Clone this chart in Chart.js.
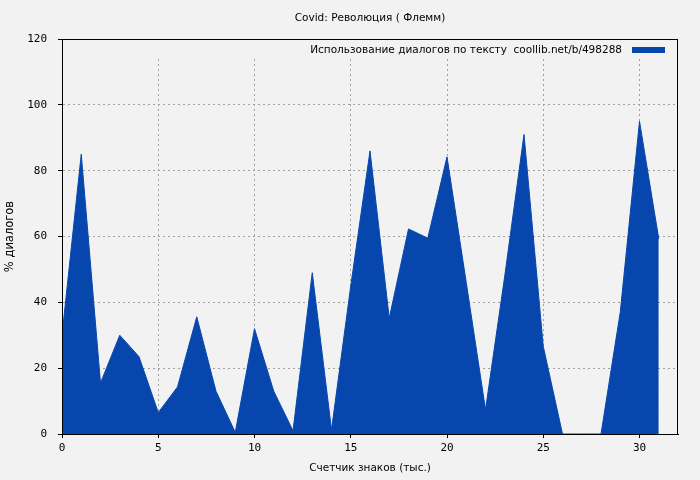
<!DOCTYPE html>
<html>
<head>
<meta charset="utf-8">
<script src="https://cdn.jsdelivr.net/npm/chart.js@4"></script>
<style>
  body { margin: 0; background: #f2f2f2; }
  canvas { display: block; }
</style>
</head>
<body>
<canvas id="chart" width="700" height="480"></canvas>
<script>
// values
const chartTitle = 'Covid: Революция ( Флемм)'
const seriesLabel = 'Использование диалогов по тексту  coollib.net/b/498288'
const xTitle = 'Счетчик знаков (тыс.)'
const yTitle = '% диалогов'

const charCount = [0, 1, 2, 3, 4, 5, 6, 7, 8, 9, 10, 11, 12, 13, 14, 15,
    16, 17, 18, 19, 20, 21, 22, 23, 24, 25, 26, 27, 28, 29, 30, 31]
const dialogShare = [30, 85, 15.5, 30, 23.5, 6.5, 14.3, 35.6, 13, 0.5, 32, 13, 1, 49, 1.3, 45,
    86, 35.2, 62.3, 59.5, 84.2, 46, 7.4, 48, 91, 26.6, 0, 0, 0, 37, 95, 59.3]

const xTicks = [0, 5, 10, 15, 20, 25, 30]
const yTicks = [0, 20, 40, 60, 80, 100, 120]

const blue = '#0646ad'
const gridColor = '#a0a0a0'
const textFont = {family: 'DejaVu Sans', size: 10.5}
const tickFont = {family: 'DejaVu Sans Mono', size: 11}

// gnuplot style frame, title + key drawn by hand
const framePlugin = {
    id: 'frame',
    beforeDatasetsDraw(chart) {
        const {ctx, chartArea: a} = chart
        // key area hides the top part of the grid
        ctx.save()
        ctx.fillStyle = '#f2f2f2'
        ctx.fillRect(a.left + 1, a.top + 1, a.right - a.left - 2, 17)
        ctx.restore()
    },
    afterDraw(chart) {
        const {ctx, chartArea: a} = chart
        ctx.save()
        ctx.strokeStyle = '#000'
        ctx.lineWidth = 1
        ctx.strokeRect(Math.round(a.left) + 0.5, Math.round(a.top) + 0.5,
            Math.round(a.right - a.left) - 1, Math.round(a.bottom - a.top))

        ctx.font = textFont.size + 'px "' + textFont.family + '"'
        ctx.fillStyle = '#000'
        ctx.textBaseline = 'middle'

        // title centred over the plot
        ctx.textAlign = 'center'
        ctx.fillText(chartTitle, (a.left + a.right) / 2, 18.5)

        // key: text then swatch on the right
        const label = chart.data.datasets[0].label
        ctx.textAlign = 'right'
        ctx.fillText(label, a.right - 56, a.top + 11)
        ctx.fillStyle = chart.data.datasets[0].backgroundColor
        ctx.fillRect(a.right - 46, a.top + 8, 33, 6)
        ctx.restore()
    }
}

const data = {
    datasets: [{
        label: seriesLabel,
        data: charCount.map((x, i) => ({x: x, y: dialogShare[i]})),
        backgroundColor: blue,
        borderColor: blue,
        borderWidth: 1,
        fill: 'origin',
        pointRadius: 0,
        tension: 0
    }]
}

const config = {
    type: 'line',
    data,
    plugins: [framePlugin],
    options: {
        responsive: false,
        animation: false,
        devicePixelRatio: 1,
        layout: {padding: {left: 0, right: 22, top: 39, bottom: 0}},
        plugins: {
            legend: {display: false},
            tooltip: {enabled: false},
            title: {display: false}
        },
        scales: {
            x: {
                type: 'linear',
                min: 0,
                max: 32,
                afterBuildTicks: scale => { scale.ticks = xTicks.map(v => ({value: v})) },
                afterFit: scale => { scale.height = 46 },
                ticks: {color: '#000', font: tickFont, padding: 4, maxRotation: 0},
                grid: {color: gridColor, tickColor: '#000', tickLength: 4},
                border: {display: true, color: '#000', dash: [2, 3]},
                title: {display: true, text: xTitle, color: '#000', font: textFont, padding: {top: 0, bottom: 5}}
            },
            y: {
                min: 0,
                max: 120,
                afterBuildTicks: scale => { scale.ticks = yTicks.map(v => ({value: v})) },
                afterFit: scale => { scale.width = 62 },
                ticks: {color: '#000', font: tickFont, padding: 11},
                grid: {color: gridColor, tickColor: '#000', tickLength: 4},
                border: {display: true, color: '#000', dash: [2, 3]},
                title: {display: true, text: yTitle, color: '#000', font: {family: 'DejaVu Sans', size: 11.5}, padding: {top: 3, bottom: 0}}
            }
        }
    }
}

new Chart(document.getElementById('chart'), config)
</script>
</body>
</html>
